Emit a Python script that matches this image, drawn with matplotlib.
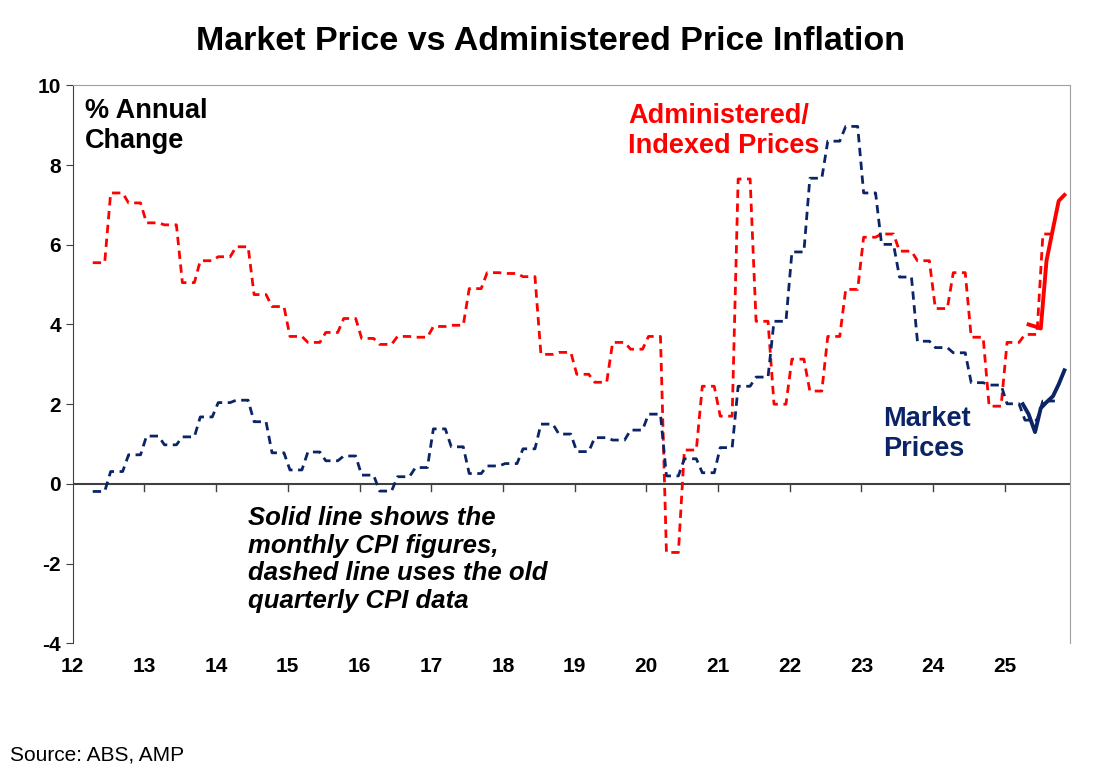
import numpy as np
import matplotlib
matplotlib.use("Agg")
import matplotlib.pyplot as plt

plt.rcParams['font.family'] = ['Liberation Sans', 'DejaVu Sans']
plt.rcParams['axes.unicode_minus'] = False

# quarterly data (old quarterly CPI), first quarter starts ~mid 2012
admin_q = [5.55, 7.3, 7.05, 6.55, 6.5, 5.05, 5.6, 5.7, 5.95, 4.75, 4.45, 3.7, 3.55, 3.8,
           4.15, 3.65, 3.5, 3.7, 3.68, 3.95, 3.98, 4.9, 5.3, 5.28, 5.2, 3.25, 3.3,
           2.75, 2.55, 3.55, 3.38, 3.7, -1.72, 0.85, 2.45, 1.7, 7.65, 4.08, 2.0, 3.13,
           2.33, 3.7, 4.88, 6.19, 6.27, 5.84, 5.6, 4.4, 5.3, 3.68, 1.95, 3.55, 3.75, 6.27]
market_q = [-0.19, 0.31, 0.73, 1.2, 0.98, 1.18, 1.68, 2.04, 2.1, 1.56, 0.78, 0.35, 0.8, 0.58,
            0.7, 0.22, -0.18, 0.18, 0.41, 1.38, 0.93, 0.26, 0.45, 0.51, 0.88, 1.5, 1.25,
            0.81, 1.16, 1.1, 1.35, 1.75, 0.2, 0.63, 0.28, 0.91, 2.45, 2.68, 4.08, 5.82,
            7.67, 8.6, 8.97, 7.3, 6.01, 5.19, 3.58, 3.42, 3.29, 2.54, 2.48, 2.01, 1.6, 2.08]
q_start = 12.28

# monthly CPI (solid)
admin_m_t = [25.33, 25.42, 25.5, 25.58, 25.67, 25.75, 25.83]
admin_m = [4.0, 3.95, 3.9, 5.6, 6.4, 7.1, 7.25]
market_m_t = [25.25, 25.33, 25.42, 25.5, 25.58, 25.67, 25.75, 25.83]
market_m = [2.0, 1.75, 1.3, 1.9, 2.05, 2.2, 2.5, 2.85]

years = list(range(12, 26))

RED = '#FF0000'
NAVY = '#0B2466'

def monthly(q):
    v = np.repeat(q, 3)
    t = q_start + np.arange(len(v)) / 12.0
    return t, v

fig = plt.figure(figsize=(11.01, 7.76), dpi=100)
ax = fig.add_axes([0.066, 0.171, 0.906, 0.719])

t, v = monthly(admin_q)
ax.plot(t, v, color=RED, lw=2, ls=(0, (3, 2)))
t, v = monthly(market_q)
ax.plot(t, v, color=NAVY, lw=2, ls=(0, (3, 2)))
ax.plot(admin_m_t, admin_m, color=RED, lw=2.8)
ax.plot(market_m_t, market_m, color=NAVY, lw=2.8)

ax.axhline(0, color='#404040', lw=1.5, zorder=0)
ax.set_xlim(12, 25.91)
ax.set_ylim(-4, 10)
ax.set_yticks(range(-4, 11, 2))
ax.set_xticks(years)
ax.set_xticklabels([str(y) for y in years])
for lab in ax.get_xticklabels() + ax.get_yticklabels():
    lab.set_fontweight('bold')
    lab.set_fontsize(15)
ax.tick_params(axis='x', direction='in', length=0, pad=10)
ax.tick_params(axis='y', direction='out', length=5, color='#404040')
for s in ['top', 'right']:
    ax.spines[s].set_color('#A0A0A0')
ax.spines['left'].set_color('#404040')
ax.spines['bottom'].set_visible(False)
for y in years[1:]:
    ax.plot([y, y], [0, -0.18], color='#404040', lw=1, clip_on=False)

fig.text(0.5, 0.947, 'Market Price vs Administered Price Inflation', ha='center', va='center',
         fontsize=24.5, fontweight='bold')
ax.text(0.012, 0.977, '% Annual\nChange', transform=ax.transAxes, va='top', ha='left',
        fontsize=19.5, fontweight='bold', linespacing=1.2)
ax.text(19.75, 9.55, 'Administered/\nIndexed Prices', color=RED, va='top', ha='left',
        fontsize=19.5, fontweight='bold', linespacing=1.2)
ax.text(23.3, 1.95, 'Market\nPrices', color=NAVY, va='top', ha='left',
        fontsize=19.5, fontweight='bold', linespacing=1.2)
ax.text(14.45, -0.55, 'Solid line shows the\nmonthly CPI figures,\ndashed line uses the old\nquarterly CPI data',
        va='top', ha='left', fontsize=18.5, fontweight='bold', fontstyle='italic', linespacing=1.2)

fig.text(0.009, 0.027, 'Source: ABS, AMP', fontsize=15, ha='left', va='center')

fig.savefig('out.png', dpi=100)
